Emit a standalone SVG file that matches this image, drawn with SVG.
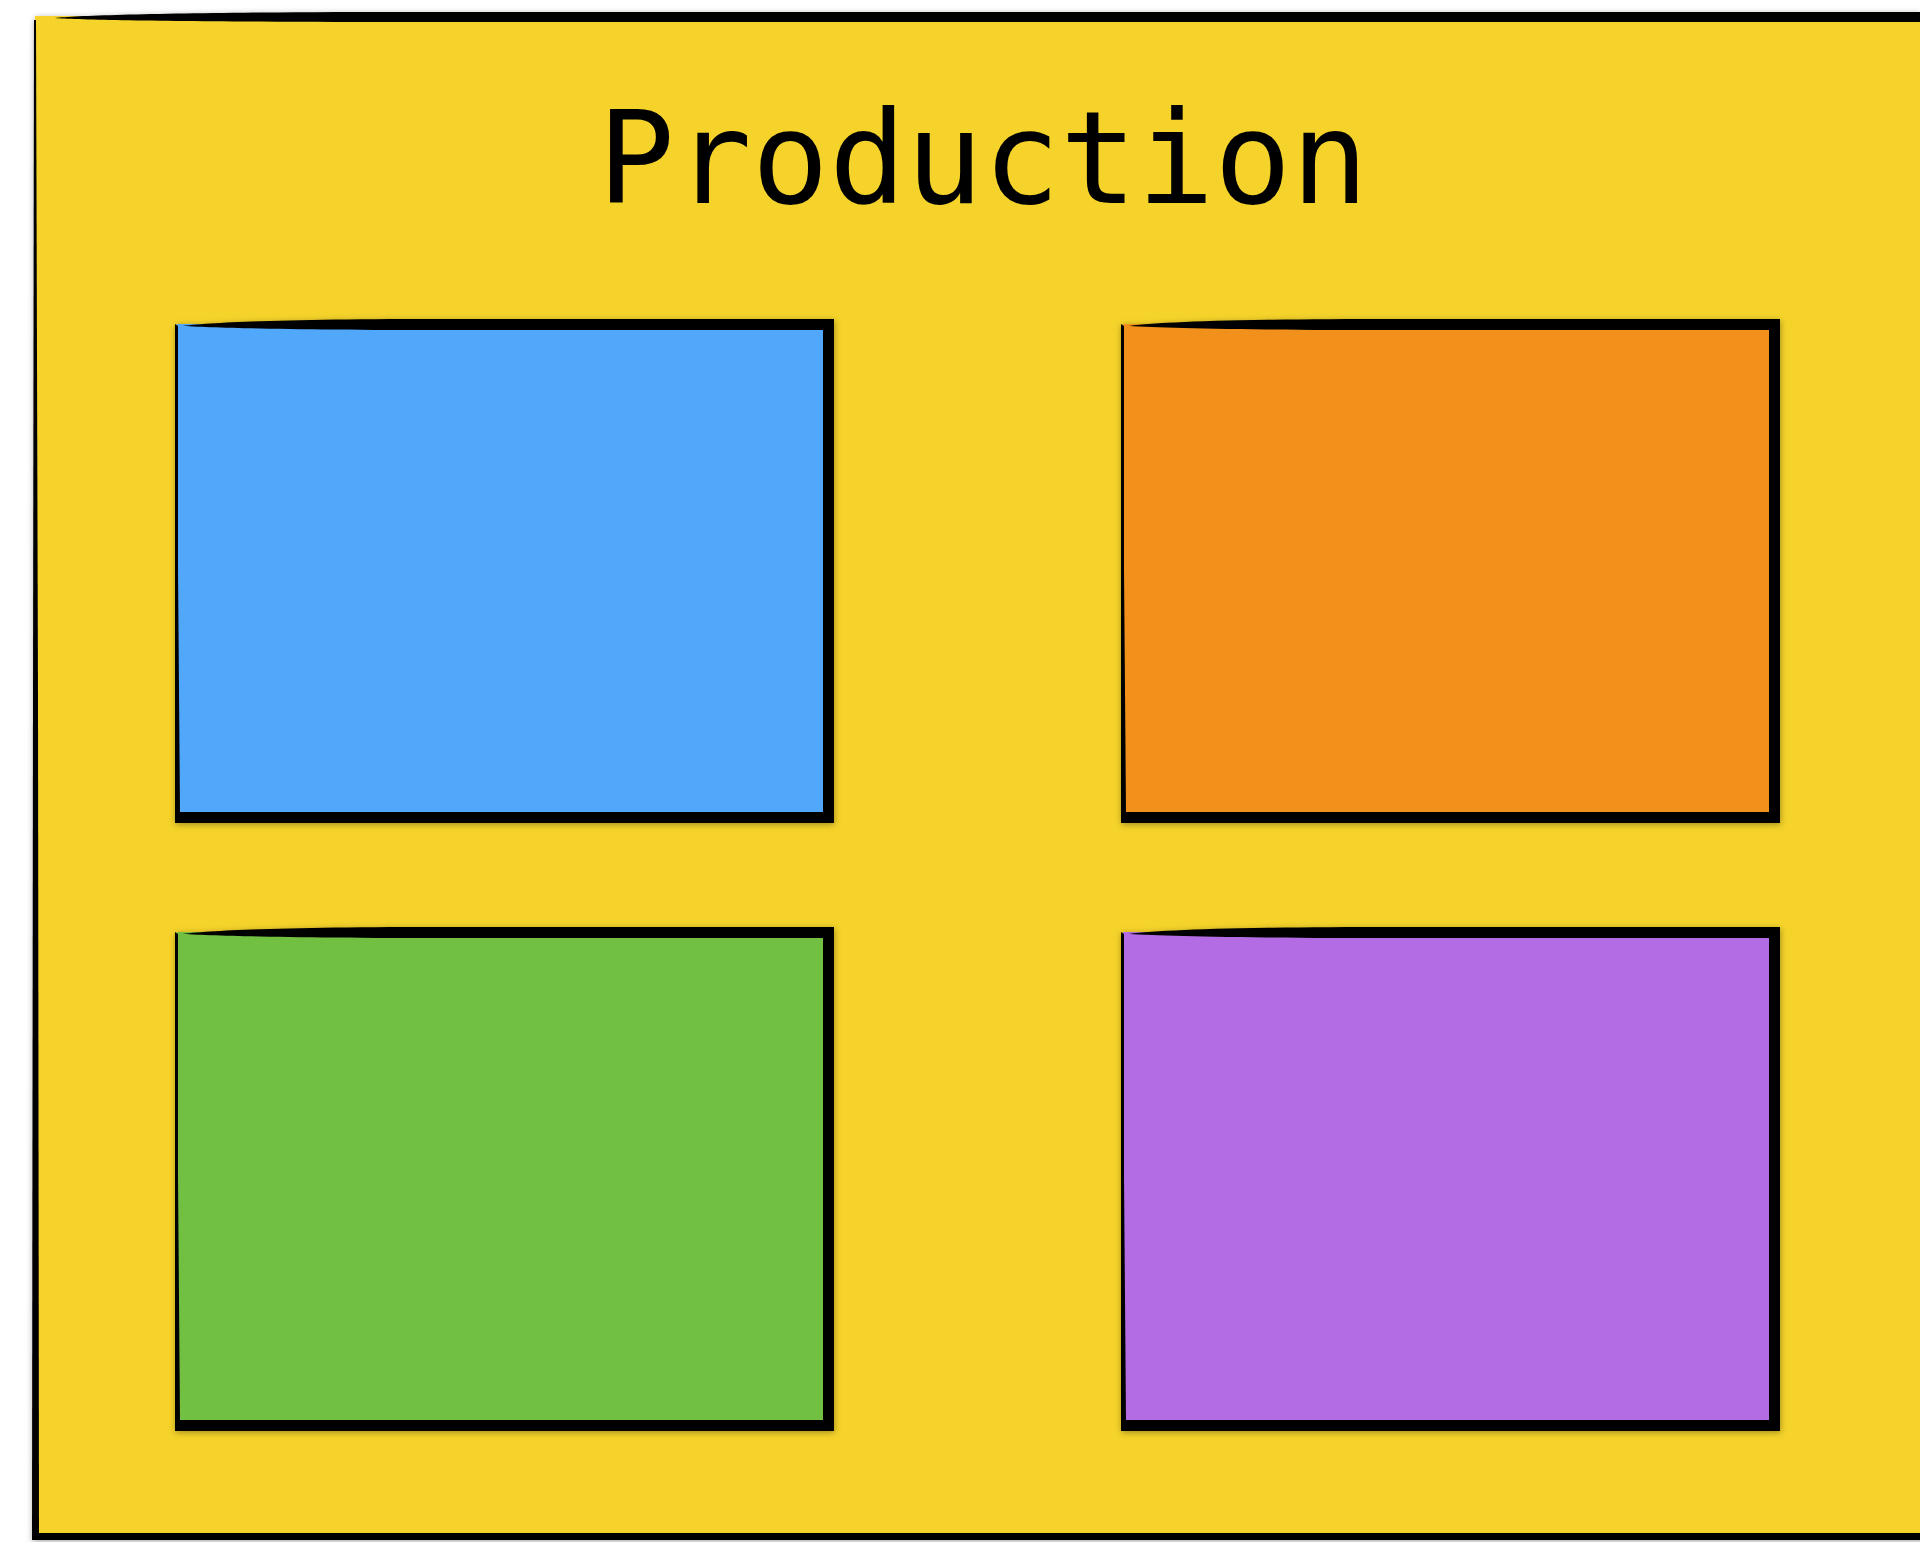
<svg xmlns="http://www.w3.org/2000/svg" xmlns:xlink="http://www.w3.org/1999/xlink" width="1920" height="1542" viewBox="0 0 1920 1542">
  <style>
    .ink { fill: #000000; }
    .title { font-family: "DejaVu Sans Mono", "Liberation Mono", monospace; font-size: 128px; fill: #000000; }
    .blue { fill: #51A8FA; }
    .orange { fill: #F2901A; }
    .green { fill: #72C043; }
    .purple { fill: #B36CE3; }
    .yellow { fill: #F5D32B; }
  </style>
  <defs>
    <filter id="shadow" x="-5%" y="-5%" width="110%" height="110%">
      <feDropShadow dx="0.5" dy="1.5" stdDeviation="3" flood-color="#000000" flood-opacity="0.35"/>
    </filter>
    <path id="frame" d="M8,7 C40,3 120,0 260,0 L659,0 L659,11 L260,11 C120,11 40,9 8,7 Z M648,0 H659 V504 H648 Z M0,493 H659 V504 H0 Z M0,5 L3,7 L3,250 L5,493 L0,493 Z"/>
    <rect id="panel" x="2" y="5" width="650" height="491"/>
  </defs>

  <rect width="1920" height="1542" fill="#ffffff"/>

  <g id="production" filter="url(#shadow)">
    <rect class="yellow" x="35" y="16" width="1900" height="1520"/>
    <path class="ink" d="M55,18 C80,15 200,12 400,12 L1920,12 L1920,22 L400,22 C200,22 80,20 55,18 Z"/>
    <path class="ink" d="M34,20 L36,20 L38,700 L39,1539 L32,1539 L33,700 Z"/>
    <rect class="ink" x="32" y="1533" width="1900" height="7"/>
    <text class="title" x="983" y="203" text-anchor="middle">Production</text>
  </g>

  <g id="box-blue" filter="url(#shadow)" transform="translate(175,319)">
    <use href="#panel" xlink:href="#panel" class="blue"/>
    <use href="#frame" xlink:href="#frame" class="ink"/>
  </g>

  <g id="box-orange" filter="url(#shadow)" transform="translate(1121,319)">
    <use href="#panel" xlink:href="#panel" class="orange"/>
    <use href="#frame" xlink:href="#frame" class="ink"/>
  </g>

  <g id="box-green" filter="url(#shadow)" transform="translate(175,927)">
    <use href="#panel" xlink:href="#panel" class="green"/>
    <use href="#frame" xlink:href="#frame" class="ink"/>
  </g>

  <g id="box-purple" filter="url(#shadow)" transform="translate(1121,927)">
    <use href="#panel" xlink:href="#panel" class="purple"/>
    <use href="#frame" xlink:href="#frame" class="ink"/>
  </g>

  <g id="connectors"/>
</svg>
